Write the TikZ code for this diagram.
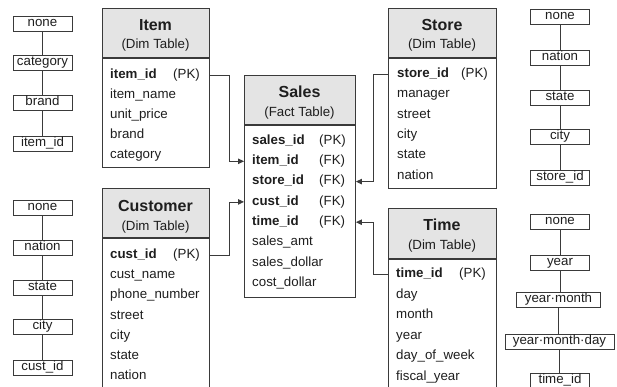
\documentclass[tikz,border=0pt]{standalone}
\usepackage{fontspec}
\setmainfont{Liberation Sans}
\usetikzlibrary{arrows.meta}

\definecolor{linegray}{HTML}{3A3A3A}
\definecolor{headgray}{HTML}{E4E4E4}
\definecolor{inkgray}{HTML}{1E1E1E}

\tikzset{
  tblbox/.style={draw=linegray, line width=0.9pt, anchor=north west, minimum width=107, inner sep=0},
  tblhead/.style={tblbox, fill=headgray, minimum height=49},
  ttl/.style={inner sep=0, font=\fontsize{16}{18}\selectfont\bfseries, text=inkgray},
  sub/.style={inner sep=0, font=\fontsize{13.3}{15}\selectfont, text=inkgray},
  row/.style={anchor=west, inner sep=0, text height=9.6, text depth=2.8, font=\fontsize{13.3}{15}\selectfont, text=inkgray},
  lvl/.style={draw=linegray, line width=0.8pt, minimum width=59, inner xsep=4, inner ysep=1, text height=9.2, text depth=3.6, font=\fontsize{13.3}{15}\selectfont, text=inkgray},
  widelvl/.style={lvl, inner xsep=8},
  conn/.style={draw=linegray, line width=0.8pt},
  fk/.style={conn, -{Triangle[length=6pt,width=5.5pt]}},
}

\begin{document}
\begin{tikzpicture}[x=1pt, y=-1pt]
    \useasboundingbox (0,0) rectangle (617,387);
    \clip (0,0) rectangle (617,387);

    % Item dimension table
    \node[tblbox, minimum height=159] (itembox) at (102,8) {};
    \node[tblhead] (itemhead) at (102,8) {};
    \draw[line width=1.4pt, linegray] (itemhead.south west) -- (itemhead.south east);
    \node[ttl] (itemttl) at (155.5,25) {Item};
    \node[sub] (itemsub) at (155.5,45) {(Dim Table)};
    \node[row] (item1) at (110,75) {\textbf{item\_id}};
    \node[row] (itemkey) at (173,75) {(PK)};
    \foreach \t [count=\i from 2] in {item\_name, unit\_price, brand, category}
        \node[row] (item\i) at (110,{75+20*(\i-1)}) {\t};

    % Customer dimension table
    \node[tblbox, minimum height=215] (custbox) at (102,188) {};
    \node[tblhead] (custhead) at (102,188) {};
    \draw[line width=1.4pt, linegray] (custhead.south west) -- (custhead.south east);
    \node[ttl] (custttl) at (155.5,206) {Customer};
    \node[sub] (custsub) at (155.5,227) {(Dim Table)};
    \node[row] (cust1) at (110,255) {\textbf{cust\_id}};
    \node[row] (custkey) at (173,255) {(PK)};
    \foreach \t [count=\i from 2] in {cust\_name, phone\_number, street, city, state, nation}
        \node[row] (cust\i) at (110,{255+20.2*(\i-1)}) {\t};

    % Sales fact table
    \node[tblbox, minimum width=111, minimum height=222] (salesbox) at (244,75) {};
    \node[tblhead, minimum width=111] (saleshead) at (244,75) {};
    \draw[line width=1.4pt, linegray] (saleshead.south west) -- (saleshead.south east);
    \node[ttl] (salesttl) at (299.5,92) {Sales};
    \node[sub] (salessub) at (299.5,113) {(Fact Table)};
    \foreach \t/\k [count=\i] in {sales\_id/PK, item\_id/FK, store\_id/FK, cust\_id/FK, time\_id/FK} {
        \node[row] (sales\i) at (252,{141+20.3*(\i-1)}) {\textbf{\t}};
        \node[row] (saleskey\i) at (319,{141+20.3*(\i-1)}) {(\k)};
    }
    \foreach \t [count=\i from 6] in {sales\_amt, sales\_dollar, cost\_dollar}
        \node[row] (sales\i) at (252,{141+20.3*(\i-1)}) {\t};

    % Store dimension table
    \node[tblbox, minimum width=108, minimum height=180] (storebox) at (388,8) {};
    \node[tblhead, minimum width=108] (storehead) at (388,8) {};
    \draw[line width=1.4pt, linegray] (storehead.south west) -- (storehead.south east);
    \node[ttl] (storettl) at (442,25) {Store};
    \node[sub] (storesub) at (442,45) {(Dim Table)};
    \node[row] (store1) at (397,74) {\textbf{store\_id}};
    \node[row] (storekey) at (461,74) {(PK)};
    \foreach \t [count=\i from 2] in {manager, street, city, state, nation}
        \node[row] (store\i) at (397,{74+20.4*(\i-1)}) {\t};

    % Time dimension table
    \node[tblbox, minimum width=108, minimum height=200] (timebox) at (388,208) {};
    \node[tblhead, minimum width=108, minimum height=50] (timehead) at (388,208) {};
    \draw[line width=1.4pt, linegray] (timehead.south west) -- (timehead.south east);
    \node[ttl] (timettl) at (442,225) {Time};
    \node[sub] (timesub) at (442,246) {(Dim Table)};
    \node[row] (time1) at (396,274) {\textbf{time\_id}};
    \node[row] (timekey) at (459,274) {(PK)};
    \foreach \t [count=\i from 2] in {day, month, year, day\_of\_week, fiscal\_year}
        \node[row] (time\i) at (396,{274+20.6*(\i-1)}) {\t};

    % Keys into the fact table
    \draw[fk] (item1 -| itembox.east) -- ++(19,0) |- (sales2 -| salesbox.west);
    \draw[fk] (cust1 -| custbox.east) -- ++(19,0) |- (sales4 -| salesbox.west);
    \draw[fk] (store1 -| storebox.west) -- ++(-15,0) |- (sales3 -| salesbox.east);
    \draw[fk] (time1 -| timebox.west) -- ++(-15,0) |- (sales5 -| salesbox.east);

    % Item hierarchy
    \node[lvl] (ih1) at (42.5,24) {none};
    \node[lvl] (ih2) at (42.5,63) {category};
    \node[lvl] (ih3) at (42.5,103) {brand};
    \node[lvl] (ih4) at (42.5,144) {item\_id};
    \foreach \a/\b in {1/2, 2/3, 3/4}
        \draw[conn] (ih\a) -- (ih\b);

    % Customer hierarchy
    \node[lvl] (ch1) at (42.5,208) {none};
    \node[lvl] (ch2) at (42.5,248) {nation};
    \node[lvl] (ch3) at (42.5,288) {state};
    \node[lvl] (ch4) at (42.5,327) {city};
    \node[lvl] (ch5) at (42.5,368) {cust\_id};
    \foreach \a/\b in {1/2, 2/3, 3/4, 4/5}
        \draw[conn] (ch\a) -- (ch\b);

    % Store hierarchy
    \node[lvl] (sh1) at (560,17) {none};
    \node[lvl] (sh2) at (560,58) {nation};
    \node[lvl] (sh3) at (560,98) {state};
    \node[lvl] (sh4) at (560,137) {city};
    \node[lvl] (sh5) at (560,178) {store\_id};
    \foreach \a/\b in {1/2, 2/3, 3/4, 4/5}
        \draw[conn] (sh\a) -- (sh\b);

    % Time hierarchy
    \node[lvl] (th1) at (560,222) {none};
    \node[lvl] (th2) at (560,263) {year};
    \node[widelvl] (th3) at (558.5,300) {year·month};
    \node[widelvl] (th4) at (559.5,342) {year·month·day};
    \node[lvl] (th5) at (560,381) {time\_id};
    \foreach \a/\b in {1/2, 2/3, 3/4, 4/5}
        \draw[conn] (th\a.south) -- (th\a.south |- th\b.north);
\end{tikzpicture}
\end{document}
